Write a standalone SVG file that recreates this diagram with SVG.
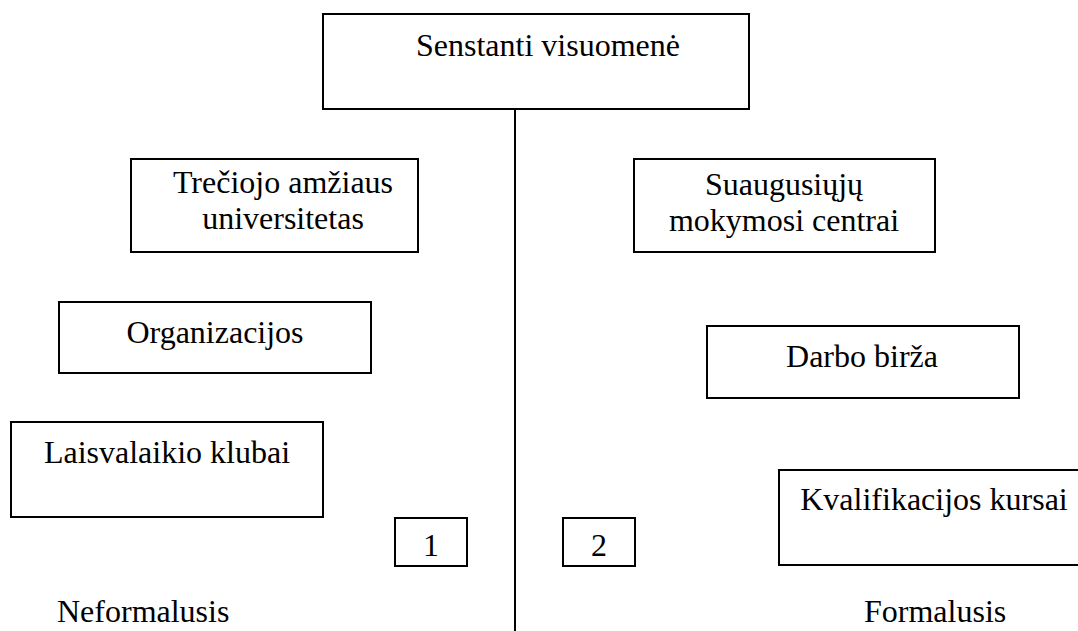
<svg xmlns="http://www.w3.org/2000/svg" width="1078" height="631" viewBox="0 0 1078 631">
<style>
.box{fill:#fff;stroke:#000;stroke-width:2}
.t{font-family:'Liberation Serif','Times New Roman',Times,serif;font-size:32px;fill:#000;text-anchor:middle}
.s{text-anchor:start}
.c{stroke:#000;stroke-width:2;fill:none}
</style>
<rect width="1078" height="631" fill="#fff"/>
<g id="connectors">
<line class="c" x1="515" y1="109" x2="515" y2="631"/>
</g>
<g font-family="Liberation Serif, Times New Roman, serif">
<g id="n-top">
<rect class="box" x="323" y="14" width="426" height="95"/>
<text class="t" x="548" y="56">Senstanti visuomenė</text>
</g>
<g id="n-treciojo">
<rect class="box" x="131" y="159" width="287" height="93"/>
<text class="t" x="283" y="193">Trečiojo amžiaus</text>
<text class="t" x="283" y="229">universitetas</text>
</g>
<g id="n-suaugusiuju">
<rect class="box" x="634" y="159" width="301" height="93"/>
<text class="t" x="784" y="195">Suaugusiųjų</text>
<text class="t" x="784" y="231">mokymosi centrai</text>
</g>
<g id="n-organizacijos">
<rect class="box" x="59" y="302" width="312" height="71"/>
<text class="t" x="215" y="343">Organizacijos</text>
</g>
<g id="n-darbo">
<rect class="box" x="707" y="326" width="312" height="72"/>
<text class="t" x="862" y="367">Darbo birža</text>
</g>
<g id="n-laisvalaikio">
<rect class="box" x="11" y="422" width="312" height="95"/>
<text class="t" x="167" y="463">Laisvalaikio klubai</text>
</g>
<g id="n-kvalifikacijos">
<rect class="box" x="779" y="470" width="301" height="95"/>
<text class="t" x="934" y="510">Kvalifikacijos kursai</text>
</g>
<g id="n-1">
<rect class="box" x="395" y="518" width="72" height="48"/>
<text class="t" x="431" y="556">1</text>
</g>
<g id="n-2">
<rect class="box" x="563" y="518" width="72" height="48"/>
<text class="t" x="599" y="556">2</text>
</g>
<g id="labels">
<text class="t s" x="57" y="622">Neformalusis</text>
<text class="t s" x="864" y="622">Formalusis</text>
</g>
</g>
</svg>
